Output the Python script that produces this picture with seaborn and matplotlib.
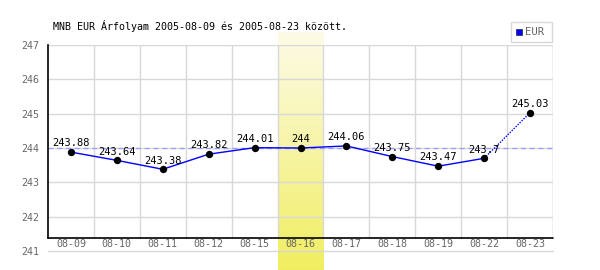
import numpy as np
import pandas as pd
import matplotlib
matplotlib.use("Agg")
import matplotlib.pyplot as plt
import seaborn as sns
from matplotlib.colors import LinearSegmentedColormap
from matplotlib.patches import Rectangle

dates = ["08-09", "08-10", "08-11", "08-12", "08-15", "08-16", "08-17", "08-18", "08-19", "08-22", "08-23"]
rates = [243.88, 243.64, 243.38, 243.82, 244.01, 244.00, 244.06, 243.75, 243.47, 243.70, 245.03]
labels = ["243.88", "243.64", "243.38", "243.82", "244.01", "244", "244.06", "243.75", "243.47", "243.7", "245.03"]
y_ticks = [241, 242, 243, 244, 245, 246, 247]
ref_value = 244.0
highlight_idx = 5
title = "MNB EUR Árfolyam 2005-08-09 és 2005-08-23 között."
series_name = "EUR"

sns.set_theme(style="white")
plt.rcParams["font.family"] = ["DejaVu Sans Mono", "DejaVu Sans"]
FS = 7.2

W, H = 600, 270
fig = plt.figure(figsize=(6, 2.7), dpi=100)
left, right, top, bottom = 48, 553, 45, 251
ax = fig.add_axes([left / W, 1 - bottom / H, (right - left) / W, (bottom - top) / H])

ymin, ymax = 241, 247
ppu = (bottom - top) / (ymax - ymin)
axis_y = ymin + (bottom - 238) / ppu
n = len(dates)

df = pd.DataFrame({"x": np.arange(n), "rate": rates, "date": dates})

# highlight column with gradient
grad = np.linspace(0, 1, 256).reshape(-1, 1)
cmap = LinearSegmentedColormap.from_list("hl", ["#fdfbe8", "#f0ee60"])
hl_top = ymax + (top - 32) / ppu
hl_bot = ymin - (H - bottom) / ppu
ax.imshow(grad, aspect="auto", cmap=cmap, extent=[highlight_idx - 0.5, highlight_idx + 0.5, hl_bot, hl_top],
          origin="upper", clip_on=False, zorder=0, interpolation="bilinear")
ax.set_xlim(-0.5, n - 0.5)
ax.set_ylim(ymin, ymax)

gc = "#d8d8d8"
for yv in y_ticks[1:]:
    ax.plot([-0.5, n - 0.5], [yv, yv], color=gc, lw=1, zorder=1)
ax.plot([-0.5, n - 0.5], [ymin, ymin], color=gc, lw=1, zorder=1, clip_on=False)
for k in range(1, n + 1):
    ax.plot([k - 0.5, k - 0.5], [axis_y, ymax], color=gc, lw=1, zorder=1)

# reference dashed line
ax.plot([-0.5, n - 0.5], [ref_value, ref_value], color="#9999ff", lw=0.9, ls=(0, (4, 3)), zorder=2)

# line
sns.lineplot(data=df.iloc[:-1], x="x", y="rate", color="#0000ff", lw=1, ax=ax, zorder=3)
sns.lineplot(data=df.iloc[-2:], x="x", y="rate", color="#0000ff", lw=1, ls=(0, (1, 1)), ax=ax, zorder=3)
sns.scatterplot(data=df, x="x", y="rate", color="black", s=28, edgecolor="black", linewidth=0, ax=ax, zorder=4)

for i, (r, lab) in enumerate(zip(rates, labels)):
    ax.text(i, r + 0.11, lab, ha="center", va="bottom", fontsize=FS + 0.3, color="black", zorder=5)

# axis lines
for s in ["top", "right", "bottom"]:
    ax.spines[s].set_visible(False)
ax.spines["left"].set_color("black")
ax.spines["left"].set_linewidth(1.2)
ax.spines["left"].set_bounds(axis_y, ymax)
ax.plot([-0.5, n - 0.5], [axis_y, axis_y], color="black", lw=1.2, zorder=3, clip_on=False)
ax.plot([n - 0.5] * 2, [axis_y, ymax], color=gc, lw=1, zorder=1)

ax.set_yticks(y_ticks)
ax.set_yticklabels([str(v) for v in y_ticks], color="#666666", fontsize=FS)
ax.tick_params(axis="y", length=0, pad=6)
ax.set_xticks([])
for i, d in enumerate(dates):
    ax.text(i, (axis_y + ymin) / 2 + 0.02, d, ha="center", va="center", fontsize=FS, color="#666666", zorder=5)
ax.set_xlabel("")
ax.set_ylabel("")
if ax.get_legend():
    ax.get_legend().remove()

fig.text(53 / W, 1 - 26 / H, title, ha="left", va="center", fontsize=FS, color="black")

# legend box
fig.patches.append(Rectangle((511 / W, 1 - 42 / H), 41 / W, 20 / H, transform=fig.transFigure,
                             facecolor="white", edgecolor="#d8d8d8", lw=1))
fig.patches.append(Rectangle((516 / W, 1 - 35 / H), 6 / W, 6 / H, transform=fig.transFigure,
                             facecolor="#0000ff", edgecolor="#333366", lw=0.6))
fig.text(525 / W, 1 - 32 / H, series_name, ha="left", va="center", fontsize=FS + 0.5, color="#666666")

fig.savefig("out.png", dpi=100)
